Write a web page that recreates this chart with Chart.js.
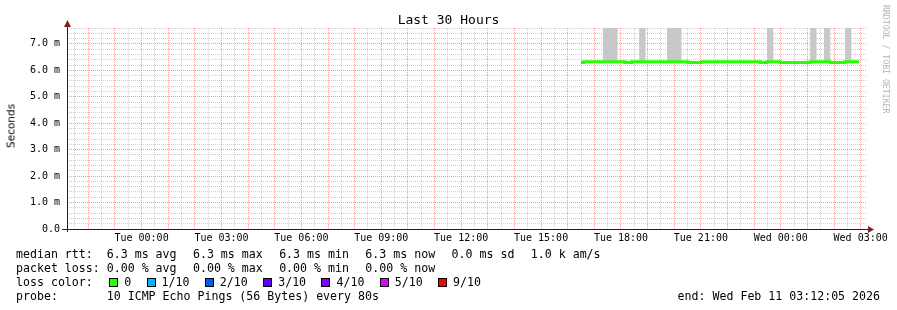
<!DOCTYPE html>
<html>
<head>
<meta charset="utf-8">
<script src="https://cdn.jsdelivr.net/npm/chart.js@4/dist/chart.umd.min.js"></script>
<style>
  body { margin: 0; background: #fff; }
  #wrap { position: relative; width: 897px; height: 310px; background: #fff; font-family: "DejaVu Sans Mono", monospace; color: #000; overflow: hidden; }
  #wrap canvas { position: absolute; left: 0; top: 0; }
  .row { position: absolute; left: 16px; display: flex; align-items: center; column-gap: 16.4px; white-space: pre; font-size: 11.6px; line-height: 12px; }
  .txt { position: absolute; white-space: pre; font-size: 11.6px; line-height: 12px; }
  #title { position: absolute; left: 0; width: 897px; top: 13px; text-align: center; font-size: 13px; line-height: 13px; white-space: pre; }
  #ylab { position: absolute; left: 11px; top: 126px; font-family: "DejaVu Sans", sans-serif; font-size: 10.5px; line-height: 11px; transform: translate(-50%, -50%) rotate(-90deg); white-space: pre; }
  #brand { position: absolute; left: 882px; top: 5px; font-size: 8.2px; line-height: 8px; color: #b4b4b4; writing-mode: vertical-rl; white-space: pre; }
  #loss { column-gap: 15.4px; }
  .item { display: inline-flex; align-items: center; }
  .box { display: inline-block; width: 7px; height: 7px; border: 1px solid #000; margin-right: 6px; }
</style>
</head>
<body>
<div id="wrap">
  <canvas id="chart" width="897" height="310"></canvas>
  <div id="title">Last 30 Hours</div>
  <div id="ylab">Seconds</div>
  <div id="brand">RRDTOOL / TOBI OETIKER</div>
  <div class="row" id="rtt" style="top:248px"></div>
  <div class="row" id="ploss" style="top:262px"></div>
  <div class="row" id="loss" style="top:276px"></div>
  <div class="txt" style="left:16px;top:290px">probe:       10 ICMP Echo Pings (56 Bytes) every 80s</div>
  <div class="txt" style="right:17px;top:290px">end: Wed Feb 11 03:12:05 2026</div>
</div>
<script>
// time axis in hours relative to Tue 00:00
const xMin = -2.8;
const xMax = 27.2;
const xTickHours = [0, 3, 6, 9, 12, 15, 18, 21, 24, 27];
const xTickLabels = ["Tue 00:00", "Tue 03:00", "Tue 06:00", "Tue 09:00", "Tue 12:00",
                     "Tue 15:00", "Tue 18:00", "Tue 21:00", "Wed 00:00", "Wed 03:00"];

const yMax = 7.6;
const yTickValues = [0, 1, 2, 3, 4, 5, 6, 7];
const yTickLabels = ["0.0", "1.0 m", "2.0 m", "3.0 m", "4.0 m", "5.0 m", "6.0 m", "7.0 m"];

// median rtt (ms), stepped
const medianHours = [16.50, 16.62, 18.15, 18.41, 20.52, 21.04, 23.23, 23.48, 23.97, 25.10, 25.85, 26.41, 26.94];
const medianMs    = [6.30, 6.32, 6.30, 6.32, 6.30, 6.32, 6.30, 6.32, 6.30, 6.32, 6.30, 6.32, 6.32];

// smoke spikes (ms), they run off the top of the graph
const smokeFrom = [17.31, 18.68, 19.73, 23.48, 25.10, 25.62, 26.41];
const smokeTo   = [17.88, 18.93, 20.28, 23.73, 25.35, 25.87, 26.66];
const smokeHigh = [9.0, 9.0, 9.0, 9.0, 9.0, 9.0, 9.0];
const smokeLow = 6.3;

// legend texts
const rttItems = ["median rtt:  6.3 ms avg", "6.3 ms max", "6.3 ms min", "6.3 ms now", "0.0 ms sd", "1.0 k am/s"];
const plossItems = ["packet loss: 0.00 % avg", "0.00 % max", "0.00 % min", "0.00 % now"];
const lossLabels = ["0", "1/10", "2/10", "3/10", "4/10", "5/10", "9/10"];
const lossColors = ["#26ff00", "#00b8ff", "#0059ff", "#5e00ff", "#7e00ff", "#dd00ff", "#ff0000"];

function fillRow(id, items) {
    const row = document.getElementById(id);
    items.forEach(t => {
        const s = document.createElement("span");
        s.textContent = t;
        row.appendChild(s);
    });
}
fillRow("rtt", rttItems);
fillRow("ploss", plossItems);

const lossRow = document.getElementById("loss");
const head = document.createElement("span");
head.textContent = "loss color:";
head.style.marginRight = "1px";
lossRow.appendChild(head);
lossLabels.forEach((lab, i) => {
    const item = document.createElement("span");
    item.className = "item";
    const box = document.createElement("span");
    box.className = "box";
    box.style.background = lossColors[i];
    item.appendChild(box);
    item.appendChild(document.createTextNode(lab));
    lossRow.appendChild(item);
});

const medianData = medianHours.map((h, i) => ({ x: h, y: medianMs[i] }));
const smokeData = [];
smokeFrom.forEach((h, i) => {
    smokeData.push({ x: h, y: smokeHigh[i] });
    smokeData.push({ x: smokeTo[i], y: smokeHigh[i] });
    smokeData.push({ x: smokeTo[i], y: null });
});

const MAJOR = "rgba(222, 79, 79, 0.55)";
const MINOR = "rgba(143, 143, 143, 0.42)";
const isWhole = v => Math.abs(v - Math.round(v)) < 1e-6;

// axis lines + arrows like rrdtool
const rrdAxes = {
    id: "rrdAxes",
    afterDraw(chart) {
        const { ctx, chartArea: a } = chart;
        ctx.save();
        ctx.strokeStyle = "#1f1f1f";
        ctx.lineWidth = 1;
        ctx.beginPath();
        ctx.moveTo(a.left - 5, a.bottom + 0.5);
        ctx.lineTo(a.right + 2, a.bottom + 0.5);
        ctx.moveTo(a.left + 0.5, a.bottom + 3);
        ctx.lineTo(a.left + 0.5, a.top - 2);
        ctx.stroke();
        ctx.fillStyle = "#801f1f";
        ctx.beginPath();
        ctx.moveTo(a.right + 2, a.bottom - 3);
        ctx.lineTo(a.right + 8, a.bottom + 0.5);
        ctx.lineTo(a.right + 2, a.bottom + 4);
        ctx.fill();
        ctx.beginPath();
        ctx.moveTo(a.left - 3, a.top - 1);
        ctx.lineTo(a.left + 0.5, a.top - 8);
        ctx.lineTo(a.left + 4, a.top - 1);
        ctx.fill();
        ctx.restore();
    }
};

const ctx = document.getElementById("chart").getContext("2d");
new Chart(ctx, {
    type: "line",
    data: {
        datasets: [{
            label: "median rtt",
            data: medianData,
            borderColor: "#26ff00",
            borderWidth: 3,
            stepped: true,
            pointRadius: 0,
            fill: false
        }, {
            label: "smoke",
            data: smokeData,
            borderWidth: 0,
            borderColor: "rgba(0,0,0,0)",
            backgroundColor: "rgb(200, 200, 200)",
            pointRadius: 0,
            fill: { value: smokeLow }
        }]
    },
    options: {
        responsive: false,
        animation: false,
        events: [],
        layout: { padding: { left: 0, top: 28, right: 31, bottom: 0 } },
        plugins: { legend: { display: false }, tooltip: { enabled: false }, title: { display: false } },
        scales: {
            x: {
                type: "linear",
                min: xMin,
                max: xMax,
                z: 1,
                afterBuildTicks: s => {
                    const t = [];
                    for (let k = Math.ceil(xMin * 2); k <= Math.floor(xMax * 2); k++) t.push({ value: k / 2 });
                    s.ticks = t;
                },
                afterFit: s => { s.height = 81; },
                ticks: {
                    autoSkip: false,
                    maxRotation: 0,
                    padding: 3,
                    color: "#000",
                    font: { family: "DejaVu Sans Mono", size: 10 },
                    callback: v => {
                        const i = xTickHours.findIndex(h => Math.abs(h - v) < 1e-6);
                        return i >= 0 ? xTickLabels[i] : "";
                    }
                },
                grid: {
                    drawTicks: false,
                    lineWidth: 1,
                    color: c => (c.tick && isWhole(c.tick.value)) ? MAJOR : MINOR,
                    borderDash: [1, 1]
                },
                border: { display: false, dash: [1, 1] }
            },
            y: {
                min: 0,
                max: yMax,
                z: 1,
                afterBuildTicks: s => {
                    const t = [];
                    for (let k = 0; k <= Math.round(yMax * 5); k++) t.push({ value: k / 5 });
                    s.ticks = t;
                },
                afterFit: s => { s.width = 67; },
                ticks: {
                    autoSkip: false,
                    padding: 7,
                    color: "#000",
                    font: { family: "DejaVu Sans Mono", size: 10 },
                    callback: v => {
                        const i = yTickValues.findIndex(y => Math.abs(y - v) < 1e-6);
                        return i >= 0 ? yTickLabels[i] : "";
                    }
                },
                grid: {
                    drawTicks: false,
                    lineWidth: 1,
                    color: c => (c.tick && isWhole(c.tick.value)) ? MAJOR : MINOR,
                    borderDash: [1, 1]
                },
                border: { display: false, dash: [1, 1] }
            }
        }
    },
    plugins: [rrdAxes]
});
</script>
</body>
</html>
